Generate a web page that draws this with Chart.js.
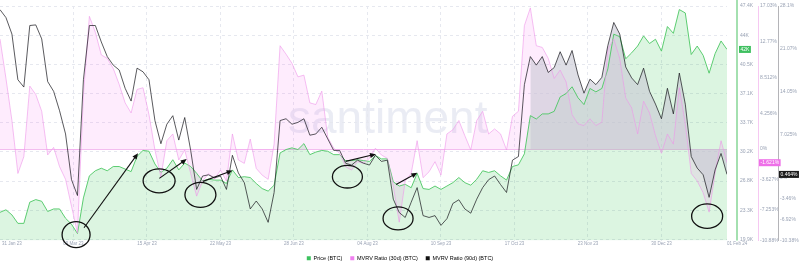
<!DOCTYPE html>
<html>
<head>
<meta charset="utf-8">
<script src="https://cdn.jsdelivr.net/npm/chart.js@4.4.0/dist/chart.umd.min.js"></script>
<style>
  html, body { margin: 0; padding: 0; background: #fff; }
</style>
</head>
<body>
<canvas id="mvrv" width="800" height="271"></canvas>
<script>
Chart.defaults.font.family = '"Liberation Sans", Arial, sans-serif';

// one point every 3 days, 31 Jan 23 -> 01 Feb 24
const stepDays = 3;

const priceK = [
  23.1, 23.4, 22.8, 21.8, 21.8, 24.3, 24.6, 24.4, 23.2, 23.5,
  23.5, 22.4, 21.7, 20.6, 24.8, 27.4, 28.0, 28.3, 28.0, 28.5,
  28.5, 28.2, 27.9, 29.7, 30.4, 30.3, 28.8, 27.8, 28.3, 29.3,
  28.1, 28.9, 28.5, 27.7, 26.8, 27.0, 26.9, 26.9, 26.5, 28.1,
  27.2, 27.3, 27.2, 26.5, 25.9, 25.6, 26.3, 30.1, 30.5, 30.7,
  30.5, 31.2, 29.9, 30.2, 30.4, 30.3, 29.9, 29.9, 29.2, 29.2,
  29.3, 29.2, 29.1, 29.8, 29.4, 29.4, 26.7, 26.2, 26.4, 26.0,
  27.7, 25.9, 25.8, 26.2, 25.8, 26.2, 26.6, 27.2, 26.6, 26.3,
  27.0, 28.0, 27.8, 28.0, 27.4, 26.9, 28.5, 28.7, 30.0, 34.5,
  34.1, 34.7, 34.7, 35.0, 36.7, 37.1, 37.9, 36.6, 35.8, 37.7,
  37.3, 37.7, 40.0, 44.1, 43.8, 41.2, 41.9, 42.7, 43.9, 43.0,
  43.5, 42.1, 45.0, 44.2, 47.0, 46.6, 41.7, 42.7, 41.6, 39.5,
  41.8, 43.3, 42.3
];

const mvrv30 = [
  13.1, 8.4, 3.4, -2.9, -0.9, 7.5, 6.5, 4.5, -0.7, 0.2,
  -2.1, -3.6, -6.8, -10.0, 6.5, 15.8, 13.9, 11.2, 10.8, 9.6,
  7.7, 5.5, 4.3, 7.1, 7.3, 4.1, -0.1, -3.3, 1.0, 1.8,
  -1.3, -0.1, -2.9, -5.6, -3.8, -2.9, -3.6, -2.5, -3.8, 1.8,
  -1.3, -1.7, 1.2, -2.3, -3.1, -3.6, 0.6, 12.3, 11.3, 10.2,
  8.6, 8.8, 5.5, 5.3, 6.9, 1.4, 0.1, -0.5, -2.1, -2.5,
  -1.5, -1.7, -1.1, 0.1, -0.7, -1.1, -4.4, -8.7, -3.8, -2.9,
  1.0, -3.4, -2.7, -1.5, -3.1, 1.8, 2.3, 3.4, 1.6, -0.1,
  3.4, 4.5, 1.8, 2.4, 1.8, -0.1, 3.9, 4.5, 14.7, 16.8,
  12.3, 12.1, 10.8, 8.4, 9.4, 8.0, 4.1, 3.0, 2.8, 3.6,
  2.8, 3.2, 11.9, 13.1, 10.8, 6.1, 4.9, 1.8, 5.7, 4.3,
  1.6, -0.5, 1.8, 0.6, 7.3, 3.0, -2.9, -3.8, -5.2, -7.5,
  -2.9, 1.0, -1.621
];

const mvrv90 = [
  27.5, 26.2, 23.5, 16.0, 14.8, 24.9, 25.0, 22.7, 15.7, 14.1,
  10.9, 7.1, -0.4, -3.0, 16.0, 24.9, 24.9, 22.2, 19.8, 18.4,
  17.6, 14.6, 12.5, 17.9, 17.3, 16.0, 9.3, 5.5, 8.7, 10.1,
  6.1, 9.8, 4.4, -2.0, 0.2, 0.4, -0.1, 0.2, -2.0, 3.6,
  0.7, -0.9, -5.2, -3.9, -5.2, -7.4, -2.5, 9.3, 9.6, 8.7,
  9.0, 9.6, 6.9, 7.1, 8.2, 6.3, 4.4, 4.4, 2.3, 2.0,
  2.8, 2.3, 2.0, 3.6, 2.6, 2.8, -3.6, -5.8, -6.6, -4.1,
  -1.7, -6.3, -6.6, -6.3, -7.9, -6.8, -4.3, -3.7, -5.2, -5.9,
  -3.6, -1.7, -0.4, 0.2, -1.2, -2.5, 2.8, 3.4, 15.2, 19.8,
  18.4, 19.8, 17.2, 18.0, 20.6, 18.4, 20.8, 16.8, 13.8, 16.1,
  15.2, 16.4, 21.6, 25.4, 23.5, 18.1, 16.3, 15.2, 17.9, 14.1,
  12.0, 9.6, 14.6, 10.4, 17.1, 12.0, 3.4, 1.5, 0.4, -3.3,
  1.2, 3.9, 0.464
];

const xTickDays = [0, 37, 74, 111, 148, 185, 222, 259, 296, 333, 366];
const xTickLabels = ['31 Jan 23', '09 Mar 23', '15 Apr 23', '22 May 23', '28 Jun 23', '04 Aug 23',
  '10 Sep 23', '17 Oct 23', '23 Nov 23', '30 Dec 23', '01 Feb 24'];

const priceMin = 19.78, priceMax = 47.42;
const priceTicks = [19.9, 23.34, 26.78, 30.22, 33.66, 37.1, 40.54, 43.98, 47.42];
const priceTickLabels = ['19.9K', '23.3K', '26.8K', '30.2K', '33.7K', '37.1K', '40.5K', '44K', '47.4K'];

const mvrv30Min = -10.88, mvrv30Max = 17.03;
const mvrv30Ticks = [-10.88, -7.253, -3.627, 0, 4.256, 8.512, 12.77, 17.03];
const mvrv30TickLabels = ['-10.88%', '-7.253%', '-3.627%', '0%', '4.256%', '8.512%', '12.77%', '17.03%'];

const mvrv90Min = -10.38, mvrv90Max = 28.1;
const mvrv90Ticks = [-10.38, -6.92, -3.46, 0, 7.025, 14.05, 21.07, 28.1];
const mvrv90TickLabels = ['-10.38%', '-6.92%', '-3.46%', '0%', '7.025%', '14.05%', '21.07%', '28.1%'];

// hand drawn marks on the picture, in (day, price K)
const circleDay = [38.3, 80.1, 100.9, 174.9, 200.4, 356.0];
const circlePrice = [20.47, 26.81, 25.16, 27.30, 22.38, 22.65];
const arrowFrom = [[42.3, 21.28], [80.2, 27.10], [102.2, 26.75], [174.0, 29.11], [199.4, 26.37]];
const arrowTo = [[69.5, 30.07], [94.0, 29.38], [117.1, 28.03], [189.3, 29.96], [210.1, 27.76]];

// 90d fill goes down to the level of the 30d zero line
const grayBase = mvrv90Max - (mvrv30Max / (mvrv30Max - mvrv30Min)) * (mvrv90Max - mvrv90Min);

const tickColor = '#9aa3b5';
const legendColors = ['#3cc25e', '#f07ff0', '#111111'];

function pts(arr) {
  return arr.map((v, i) => ({x: i * stepDays, y: v}));
}

function badge(ctx, left, y, text, bg) {
  ctx.font = '5px "Liberation Sans", Arial, sans-serif';
  const w = ctx.measureText(text).width + 3;
  ctx.fillStyle = bg;
  ctx.fillRect(left, y - 3.5, w, 7);
  ctx.fillStyle = '#ffffff';
  ctx.textAlign = 'left';
  ctx.textBaseline = 'middle';
  ctx.fillText(text, left + 1.5, y + 0.3);
}

function arrow(ctx, x1, y1, x2, y2) {
  const a = Math.atan2(y2 - y1, x2 - x1);
  ctx.beginPath();
  ctx.moveTo(x1, y1);
  ctx.lineTo(x2 - 3 * Math.cos(a), y2 - 3 * Math.sin(a));
  ctx.stroke();
  ctx.beginPath();
  ctx.moveTo(x2, y2);
  ctx.lineTo(x2 - 6 * Math.cos(a) + 2.6 * Math.sin(a), y2 - 6 * Math.sin(a) - 2.6 * Math.cos(a));
  ctx.lineTo(x2 - 6 * Math.cos(a) - 2.6 * Math.sin(a), y2 - 6 * Math.sin(a) + 2.6 * Math.cos(a));
  ctx.closePath();
  ctx.fill();
}

const watermark = {
  id: 'watermark',
  beforeDraw(chart) {
    const {ctx, chartArea} = chart;
    ctx.save();
    ctx.font = '46px "Liberation Sans", Arial, sans-serif';
    ctx.fillStyle = 'rgba(190,196,220,0.32)';
    ctx.textBaseline = 'alphabetic';
    ctx.textAlign = 'left';
    ctx.fillText('santiment', chartArea.left + 288, chartArea.top + 127);
    ctx.restore();
  }
};

const overlay = {
  id: 'overlay',
  afterDraw(chart) {
    const {ctx, chartArea, scales} = chart;
    const x = scales.x, yP = scales.yPrice, y30 = scales.y30, y90 = scales.y90;
    ctx.save();

    // date labels
    ctx.font = '4.5px "Liberation Sans", Arial, sans-serif';
    ctx.fillStyle = tickColor;
    ctx.textBaseline = 'middle';
    xTickDays.forEach((d, i) => {
      const px = x.getPixelForValue(d);
      const edge = i === 0 || i === xTickDays.length - 1;
      ctx.textAlign = edge ? 'left' : 'center';
      ctx.fillText(xTickLabels[i], i === 0 ? px + 2 : px, chartArea.bottom + 3.5);
    });

    // price axis line
    ctx.strokeStyle = '#86d696';
    ctx.lineWidth = 1.5;
    ctx.beginPath();
    ctx.moveTo(yP.left + 10, 0);
    ctx.lineTo(yP.left + 10, chartArea.bottom);
    ctx.stroke();

    // last value badges
    const lp = priceK[priceK.length - 1];
    const l30 = mvrv30[mvrv30.length - 1];
    const l90 = mvrv90[mvrv90.length - 1];
    badge(ctx, yP.left + 12, yP.getPixelForValue(lp), Math.round(lp) + 'K', '#3fc060');
    badge(ctx, y30.left + 1, y30.getPixelForValue(l30), l30.toPrecision(4) + '%', '#ee6fe8');
    badge(ctx, y90.left + 1, y90.getPixelForValue(l90), l90.toPrecision(3) + '%', '#1a1a1a');

    // circles and arrows
    const radii = [[14, 13], [16, 12], [15.5, 12.5], [15, 11.3], [15, 11.5], [15.5, 12.2]];
    ctx.strokeStyle = '#111';
    ctx.fillStyle = '#111';
    ctx.lineWidth = 1.3;
    circleDay.forEach((d, i) => {
      ctx.beginPath();
      ctx.ellipse(x.getPixelForValue(d), yP.getPixelForValue(circlePrice[i]),
        radii[i][0], radii[i][1], 0, 0, Math.PI * 2);
      ctx.stroke();
    });
    ctx.lineWidth = 1.1;
    arrowFrom.forEach((f, i) => {
      arrow(ctx, x.getPixelForValue(f[0]), yP.getPixelForValue(f[1]),
        x.getPixelForValue(arrowTo[i][0]), yP.getPixelForValue(arrowTo[i][1]));
    });
    ctx.restore();
  }
};

new Chart(document.getElementById('mvrv'), {
  type: 'line',
  data: {
    datasets: [
      {
        label: 'Price (BTC)',
        data: pts(priceK),
        yAxisID: 'yPrice',
        borderColor: '#4cc763',
        borderWidth: 0.9,
        backgroundColor: 'rgba(40,190,70,0.16)',
        fill: 'start',
        order: 2
      },
      {
        label: 'MVRV Ratio (30d) (BTC)',
        data: pts(mvrv30),
        yAxisID: 'y30',
        borderColor: 'rgba(238,150,234,0.75)',
        borderWidth: 0.8,
        backgroundColor: 'rgba(245,100,240,0.12)',
        fill: 'origin',
        order: 1
      },
      {
        label: 'MVRV Ratio (90d) (BTC)',
        data: pts(mvrv90),
        yAxisID: 'y90',
        borderColor: 'rgba(25,25,30,0.8)',
        borderWidth: 0.9,
        backgroundColor: 'rgba(0,0,0,0)',
        fill: {value: grayBase},
        order: 0,
        segment: {
          backgroundColor: c => priceK[c.p0DataIndex] > 33 ? 'rgba(200,200,212,0.6)' : 'rgba(0,0,0,0)'
        }
      }
    ]
  },
  options: {
    responsive: false,
    animation: false,
    events: [],
    layout: { padding: { top: 3, right: 0, bottom: 0, left: 0 } },
    elements: { point: { radius: 0 }, line: { tension: 0 } },
    plugins: {
      filler: { drawTime: 'beforeDatasetsDraw' },
      tooltip: { enabled: false },
      legend: {
        position: 'bottom',
        labels: {
          boxWidth: 4,
          boxHeight: 4,
          padding: 8,
          color: '#4a4f5c',
          font: { size: 5.5 },
          generateLabels: chart => chart.data.datasets.map((ds, i) => ({
            text: ds.label,
            fillStyle: legendColors[i],
            strokeStyle: legendColors[i],
            lineWidth: 0,
            hidden: false,
            datasetIndex: i
          }))
        }
      }
    },
    scales: {
      x: {
        type: 'linear',
        min: 0,
        max: 366,
        afterBuildTicks: a => { a.ticks = xTickDays.slice(1, -1).map(v => ({value: v})); },
        ticks: { display: false },
        grid: { color: '#e6e8ef', drawTicks: false },
        border: { display: false, dash: [3, 3] },
        afterFit: a => { a.height = 7; }
      },
      yPrice: {
        position: 'right',
        min: priceMin,
        max: priceMax,
        afterBuildTicks: a => { a.ticks = priceTicks.map(v => ({value: v})); },
        ticks: {
          autoSkip: false,
          padding: 3,
          color: tickColor,
          font: { size: 5 },
          callback: (v, i) => priceTickLabels[i]
        },
        grid: { color: '#e6e8ef', drawTicks: true, tickLength: 10, tickColor: 'rgba(0,0,0,0)' },
        border: { display: false, dash: [3, 3] },
        afterFit: a => { a.width = 31; }
      },
      y30: {
        position: 'right',
        min: mvrv30Min,
        max: mvrv30Max,
        afterBuildTicks: a => { a.ticks = mvrv30Ticks.map(v => ({value: v})); },
        ticks: {
          autoSkip: false,
          padding: 2,
          color: tickColor,
          font: { size: 5 },
          callback: (v, i) => mvrv30TickLabels[i]
        },
        grid: {
          drawTicks: false,
          color: c => (c.tick && c.tick.value === 0) ? '#f3bdef' : 'rgba(0,0,0,0)'
        },
        border: { display: true, color: '#f6c8f2', width: 1 },
        afterFit: a => { a.width = 20; }
      },
      y90: {
        position: 'right',
        min: mvrv90Min,
        max: mvrv90Max,
        afterBuildTicks: a => { a.ticks = mvrv90Ticks.map(v => ({value: v})); },
        ticks: {
          autoSkip: false,
          padding: 2,
          color: tickColor,
          font: { size: 5 },
          callback: (v, i) => mvrv90TickLabels[i]
        },
        grid: { drawOnChartArea: false, drawTicks: false },
        border: { display: true, color: '#b4b4b8', width: 1 },
        afterFit: a => { a.width = 22; }
      }
    }
  },
  plugins: [watermark, overlay]
});
</script>
</body>
</html>
